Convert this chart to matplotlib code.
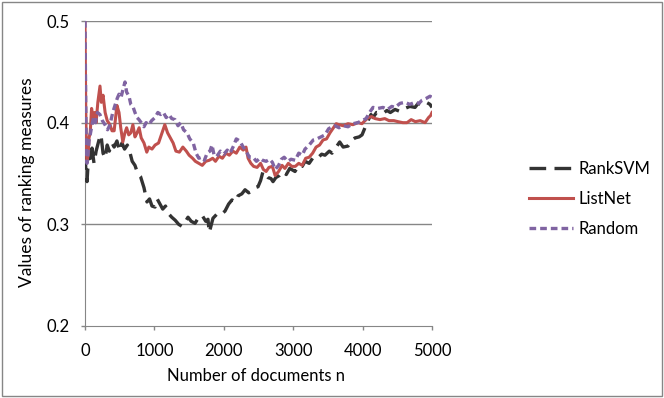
import matplotlib
matplotlib.use("Agg")
import matplotlib.pyplot as plt
from matplotlib.patches import Rectangle

plt.rcParams['font.family'] = ['Lato', 'DejaVu Sans']

# values
svm_n = [0, 15, 29, 45, 60, 80, 101, 130, 160, 202, 230, 260, 290, 320, 350, 389, 420, 460, 500,
         533, 570, 610, 650, 680, 720, 760, 800, 850, 893, 930, 965, 1009, 1040, 1080, 1120, 1160,
         1210, 1250, 1300, 1350, 1398, 1440, 1484, 1530, 1585, 1630, 1686, 1740, 1772, 1790, 1810,
         1844, 1900, 1950, 2017, 2070, 2118, 2170, 2205, 2260, 2306, 2360, 2406, 2450, 2493, 2530,
         2565, 2600, 2637, 2680, 2709, 2750, 2800, 2850, 2900, 2950, 3026, 3080, 3130, 3170, 3230,
         3290, 3350, 3410, 3458, 3520, 3559, 3620, 3670, 3720, 3790, 3850, 3891, 3950, 3992, 4040,
         4078, 4120, 4150, 4200, 4294, 4350, 4400, 4467, 4540, 4611, 4680, 4755, 4800, 4856, 4920,
         4971, 5000]
svm_v = [0.37, 0.35, 0.342, 0.36, 0.372, 0.365, 0.375, 0.36, 0.372, 0.383, 0.388, 0.37, 0.365,
         0.378, 0.372, 0.38, 0.376, 0.382, 0.372, 0.38, 0.374, 0.378, 0.37, 0.362, 0.358, 0.35,
         0.347, 0.336, 0.322, 0.325, 0.318, 0.317, 0.325, 0.32, 0.315, 0.318, 0.31, 0.307, 0.304,
         0.3, 0.298, 0.302, 0.307, 0.303, 0.301, 0.306, 0.309, 0.303, 0.305, 0.292, 0.297, 0.306,
         0.31, 0.309, 0.313, 0.32, 0.324, 0.322, 0.328, 0.33, 0.334, 0.331, 0.333, 0.336, 0.337,
         0.343, 0.352, 0.349, 0.346, 0.345, 0.342, 0.346, 0.348, 0.352, 0.349, 0.355, 0.352, 0.358,
         0.357, 0.362, 0.36, 0.366, 0.365, 0.369, 0.368, 0.372, 0.37, 0.376, 0.381, 0.376, 0.377,
         0.383, 0.385, 0.386, 0.388, 0.396, 0.402, 0.408, 0.405, 0.41, 0.409, 0.412, 0.41, 0.413,
         0.411, 0.414, 0.416, 0.415, 0.419, 0.417, 0.42, 0.418, 0.415]

listnet_n = [0, 10, 20, 29, 45, 58, 75, 95, 115, 140, 160, 185, 216, 235, 260, 290, 320, 360, 389,
             420, 460, 490, 515, 545, 575, 600, 630, 660, 690, 720, 750, 780, 810, 850, 890, 920,
             965, 1010, 1060, 1110, 1150, 1190, 1230, 1270, 1310, 1360, 1410, 1460, 1500, 1550,
             1590, 1640, 1690, 1740, 1790, 1840, 1880, 1930, 1980, 2030, 2080, 2130, 2180, 2230,
             2280, 2320, 2350, 2390, 2430, 2480, 2530, 2570, 2610, 2650, 2700, 2740, 2790, 2840,
             2880, 2930, 2980, 3030, 3080, 3130, 3180, 3230, 3280, 3330, 3380, 3430, 3480, 3530,
             3580, 3620, 3660, 3720, 3790, 3860, 3934, 3990, 4035, 4080, 4130, 4180, 4250, 4320,
             4380, 4450, 4510, 4580, 4640, 4700, 4760, 4830, 4899, 4950, 4980, 5000]
listnet_v = [0.5, 0.42, 0.37, 0.362, 0.368, 0.385, 0.39, 0.414, 0.405, 0.41, 0.4, 0.42, 0.436,
             0.42, 0.427, 0.41, 0.402, 0.398, 0.392, 0.392, 0.417, 0.41, 0.395, 0.381, 0.39, 0.395,
             0.388, 0.39, 0.398, 0.386, 0.39, 0.395, 0.385, 0.38, 0.371, 0.376, 0.374, 0.378, 0.38,
             0.39, 0.398, 0.39, 0.385, 0.38, 0.372, 0.371, 0.376, 0.372, 0.368, 0.365, 0.362, 0.36,
             0.358, 0.362, 0.363, 0.365, 0.362, 0.367, 0.365, 0.37, 0.368, 0.372, 0.37, 0.376,
             0.373, 0.376, 0.365, 0.36, 0.357, 0.356, 0.36, 0.354, 0.352, 0.356, 0.357, 0.348,
             0.352, 0.358, 0.355, 0.36, 0.357, 0.357, 0.36, 0.358, 0.365, 0.366, 0.37, 0.376,
             0.378, 0.383, 0.384, 0.39, 0.395, 0.399, 0.398, 0.397, 0.399, 0.398, 0.4, 0.399,
             0.402, 0.405, 0.406, 0.404, 0.403, 0.404, 0.402, 0.402, 0.401, 0.4, 0.4, 0.403,
             0.401, 0.402, 0.4, 0.405, 0.407, 0.41]

random_n = [0, 10, 20, 29, 45, 58, 80, 101, 125, 150, 180, 215, 250, 288, 325, 360, 400, 432,
            465, 490, 520, 545, 576, 600, 634, 660, 690, 720, 750, 778, 810, 850, 880, 922, 960,
            1009, 1050, 1090, 1130, 1170, 1210, 1250, 1297, 1340, 1380, 1420, 1470, 1510, 1560,
            1600, 1640, 1680, 1720, 1760, 1800, 1830, 1860, 1900, 1950, 2000, 2050, 2090, 2140,
            2180, 2230, 2280, 2320, 2370, 2420, 2470, 2520, 2560, 2610, 2660, 2700, 2740, 2790,
            2830, 2870, 2920, 2970, 3030, 3080, 3130, 3170, 3230, 3290, 3340, 3400, 3458, 3510,
            3560, 3602, 3660, 3720, 3790, 3860, 3930, 3992, 4050, 4100, 4150, 4220, 4294, 4360,
            4420, 4467, 4540, 4611, 4680, 4755, 4810, 4856, 4920, 4971, 5000]
random_v = [0.5, 0.42, 0.37, 0.36, 0.37, 0.382, 0.39, 0.398, 0.405, 0.4, 0.41, 0.408, 0.402,
            0.398, 0.393, 0.398, 0.41, 0.417, 0.424, 0.428, 0.425, 0.432, 0.44, 0.43, 0.426,
            0.418, 0.416, 0.41, 0.405, 0.403, 0.4, 0.396, 0.4, 0.398, 0.402, 0.405, 0.41, 0.408,
            0.41, 0.405, 0.408, 0.404, 0.403, 0.397, 0.4, 0.393, 0.39, 0.384, 0.38, 0.37, 0.365,
            0.366, 0.363, 0.37, 0.372, 0.378, 0.368, 0.367, 0.372, 0.369, 0.373, 0.37, 0.377,
            0.384, 0.382, 0.376, 0.372, 0.366, 0.366, 0.362, 0.365, 0.363, 0.362, 0.364, 0.361,
            0.354, 0.358, 0.364, 0.366, 0.362, 0.364, 0.363, 0.37, 0.368, 0.374, 0.378, 0.383,
            0.384, 0.386, 0.388, 0.394, 0.396, 0.397, 0.395, 0.397, 0.396, 0.399, 0.4, 0.402,
            0.404, 0.41, 0.415, 0.414, 0.415, 0.413, 0.416, 0.415, 0.419, 0.42, 0.418, 0.42,
            0.419, 0.422, 0.424, 0.426, 0.425]

x_ticks = [0, 1000, 2000, 3000, 4000, 5000]
y_ticks = [0.2, 0.3, 0.4, 0.5]

grey = '#868686'
fig = plt.figure(figsize=(6.64, 3.98), dpi=100)
ax = fig.add_axes([85/664, 1-326/398, 347/664, 305/398])

for y in y_ticks[1:]:
    ax.axhline(y, color=grey, lw=1, zorder=1)

ax.plot(svm_n, svm_v, color='#333333', lw=2.4, dashes=(5, 2.5), label='RankSVM', zorder=3)
ax.plot(listnet_n, listnet_v, color='#C0504D', lw=2.2, label='ListNet', zorder=4)
ax.plot(random_n, random_v, color='#8064A2', lw=2.4, dashes=(2, 1.2), label='Random', zorder=5)

ax.set_xlim(0, 5000)
ax.set_ylim(0.2, 0.5)
ax.set_xticks(x_ticks)
ax.set_yticks(y_ticks)
ax.set_yticklabels(['%.1f' % v for v in y_ticks])
for s in ['top', 'right']:
    ax.spines[s].set_visible(False)
for s in ['left', 'bottom']:
    ax.spines[s].set_color(grey)
ax.tick_params(colors=grey, labelcolor='black', labelsize=12, length=3, width=1)
ax.tick_params(axis='x', pad=9)
ax.tick_params(axis='y', pad=8)
ax.set_xlabel('Number of documents n', fontsize=12)
ax.set_ylabel('Values of ranking measures', fontsize=12.5)
ax.xaxis.set_label_coords(0.493, -0.138)
ax.yaxis.set_label_coords(-0.144, 0.472)

ax.legend(loc='center left', bbox_to_anchor=(1.28, 0.416), frameon=False, fontsize=12,
          borderpad=0, borderaxespad=0, handlelength=2.64, labelspacing=0.85,
          handletextpad=0.3)

fig.patches.append(Rectangle((0.003, 0.004), 0.994, 0.992, transform=fig.transFigure,
                             fill=False, edgecolor=grey, lw=1))
fig.savefig('out.png', dpi=100)
